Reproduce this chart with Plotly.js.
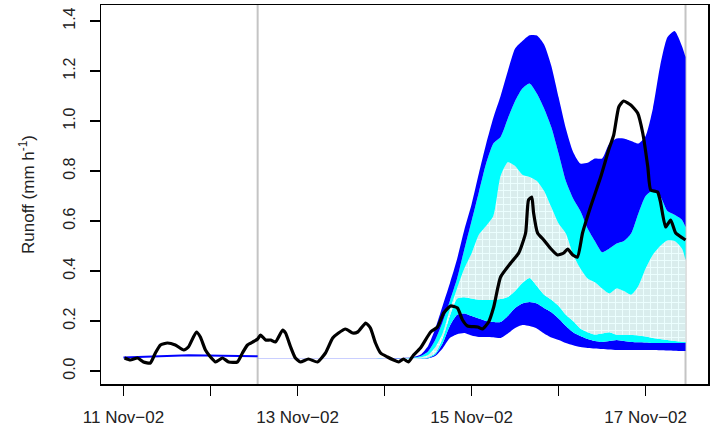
<!DOCTYPE html>
<html>
<head>
<meta charset="utf-8">
<script src="https://cdn.plot.ly/plotly-3.0.1.min.js"></script>
<style>html,body{margin:0;padding:0;background:#fff;}#chart{width:713px;height:428px;}</style>
</head>
<body>
<div id="chart"></div>
<script>
// hours since 11 Nov 2002 00:00
const tickHours = [0, 24, 48, 72, 96, 120, 144];
const tickLabels = ['11 Nov\u221202', '', '13 Nov\u221202', '', '15 Nov\u221202', '', '17 Nov\u221202'];
const markerHours = [37, 155];

const earlyHours = [0, 18, 37];
const earlyRunoff = [0.054, 0.063, 0.059];

const bandHours = [37,50,62,74,76,78,80,82,84,86,88,90,92,94,96,98,100,102,104,106,108,110,112,114,116,118,120,122,124,126,128,130,132,134,136,138,140,142,144,146,148,150,152,154,155];
const outerHi = [0.0505,0.0505,0.0505,0.0505,0.052,0.053,0.056,0.066,0.1,0.17,0.26,0.35,0.448,0.565,0.667,0.79,0.908,1.013,1.10,1.20,1.29,1.32,1.343,1.342,1.306,1.22,1.095,0.97,0.876,0.83,0.833,0.85,0.85,0.91,0.93,0.93,0.92,0.91,0.94,1.05,1.22,1.335,1.36,1.30,1.256];
const cyanHi = [0.050,0.050,0.050,0.050,0.051,0.052,0.054,0.06,0.078,0.125,0.195,0.28,0.37,0.487,0.60,0.715,0.83,0.91,0.936,1.01,1.08,1.13,1.15,1.11,1.05,0.975,0.87,0.76,0.69,0.64,0.57,0.52,0.475,0.49,0.51,0.52,0.55,0.63,0.70,0.722,0.70,0.64,0.625,0.605,0.576];
const innerHi = [0.0496,0.0496,0.0496,0.0496,0.0505,0.051,0.052,0.055,0.064,0.095,0.15,0.245,0.33,0.41,0.47,0.545,0.58,0.62,0.78,0.835,0.82,0.785,0.776,0.76,0.72,0.655,0.59,0.55,0.465,0.41,0.37,0.355,0.33,0.31,0.33,0.32,0.305,0.34,0.41,0.465,0.50,0.522,0.52,0.49,0.444];
const innerLo = [0.0492,0.0492,0.0492,0.0492,0.0495,0.0495,0.0498,0.051,0.055,0.072,0.13,0.22,0.29,0.295,0.29,0.285,0.284,0.284,0.288,0.296,0.32,0.352,0.372,0.34,0.305,0.285,0.26,0.225,0.20,0.17,0.155,0.146,0.15,0.155,0.145,0.145,0.144,0.142,0.138,0.132,0.128,0.124,0.12,0.117,0.116];
const cyanLo = [0.0488,0.0488,0.0488,0.0488,0.049,0.049,0.049,0.0498,0.052,0.066,0.11,0.18,0.225,0.23,0.22,0.21,0.20,0.196,0.196,0.22,0.252,0.27,0.276,0.27,0.252,0.235,0.21,0.18,0.155,0.14,0.128,0.12,0.116,0.12,0.124,0.12,0.116,0.115,0.114,0.112,0.112,0.112,0.112,0.112,0.112];
const outerLo = [0.0485,0.0485,0.0485,0.0485,0.0485,0.0485,0.0485,0.049,0.05,0.06,0.09,0.132,0.147,0.152,0.142,0.136,0.136,0.135,0.132,0.15,0.172,0.184,0.18,0.17,0.15,0.134,0.124,0.112,0.103,0.096,0.092,0.09,0.088,0.086,0.084,0.084,0.084,0.084,0.084,0.084,0.083,0.082,0.081,0.08,0.08];

const obsHours = [0.3,1.9,3.9,5.5,7.4,8.8,10.2,12.1,14.3,16.6,17.9,20.1,21.2,22.6,24.0,25.4,27.3,29.0,31.4,32.8,34.2,35.9,37.0,37.8,39.2,40.6,41.9,43.9,44.7,46.1,47.4,48.8,51.0,53.5,55.7,57.7,59.3,61.2,63.2,64.6,66.8,68.1,69.5,70.9,72.8,74.5,75.9,77.2,78.6,80.0,81.9,84.7,86.6,88.3,90.2,92.1,93.5,94.9,97.7,99.0,100.7,102.1,104.0,106.8,109.0,110.9,111.7,112.6,113.1,114.2,115.9,117.8,119.7,121.4,122.5,123.9,125.2,126.6,128.8,131.6,133.8,135.2,136.6,137.9,139.9,141.8,143.2,144.6,145.4,147.3,148.1,149.5,150.9,152.3,154.2,155.0];
const obsRunoff = [0.052,0.044,0.052,0.036,0.032,0.072,0.104,0.112,0.104,0.084,0.096,0.156,0.136,0.084,0.056,0.036,0.052,0.036,0.036,0.072,0.104,0.118,0.128,0.144,0.124,0.124,0.116,0.164,0.152,0.096,0.052,0.036,0.048,0.036,0.072,0.132,0.152,0.168,0.152,0.156,0.192,0.172,0.112,0.072,0.056,0.044,0.036,0.048,0.036,0.064,0.092,0.156,0.176,0.232,0.26,0.252,0.204,0.18,0.176,0.168,0.196,0.256,0.376,0.432,0.472,0.552,0.684,0.696,0.632,0.552,0.524,0.49,0.464,0.472,0.488,0.464,0.456,0.552,0.656,0.776,0.884,0.944,1.056,1.08,1.064,1.032,0.952,0.816,0.724,0.716,0.676,0.576,0.604,0.552,0.532,0.524];

const BLUE = '#0000ff', CYAN = '#00ffff';
function band(y, fill, color, pattern) {
  const t = {x: bandHours, y: y, type: 'scatter', mode: 'lines',
    line: {width: 0, shape: 'spline', smoothing: 0.6}, hoverinfo: 'skip', showlegend: false};
  if (fill) { t.fill = 'tonexty'; t.fillcolor = color; }
  if (pattern) t.fillpattern = pattern;
  return t;
}
const traces = [
  band(outerLo, false),
  band(cyanLo, true, BLUE),
  band(innerLo, true, CYAN),
  band(innerHi, true, '#dcefef', {shape: '+', bgcolor: '#d9eded', fgcolor: '#ecffff', size: 7, solidity: 0.25}),
  band(cyanHi, true, CYAN),
  band(outerHi, true, BLUE),
  {x: earlyHours, y: earlyRunoff, type: 'scatter', mode: 'lines', line: {color: BLUE, width: 2}, showlegend: false},
  {x: obsHours, y: obsRunoff, type: 'scatter', mode: 'lines', line: {color: '#000', width: 3.2, shape: 'spline', smoothing: 0.5}, showlegend: false}
];
const shapes = markerHours.map(h => ({type: 'line', xref: 'x', yref: 'paper', x0: h, x1: h, y0: 0, y1: 1, layer: 'below', line: {color: '#c4c4c4', width: 2}}));
const xfont = {family: 'Liberation Sans, Arial, sans-serif', size: 17, color: '#222'};
const yfont = {family: 'Liberation Sans, Arial, sans-serif', size: 16, color: '#222'};
const layout = {
  width: 713, height: 428,
  margin: {l: 101, r: 5, t: 5, b: 44},
  paper_bgcolor: '#fff', plot_bgcolor: '#fff',
  font: yfont,
  shapes: shapes,
  xaxis: {range: [-6.2, 161.2], tickvals: tickHours, ticktext: tickLabels, ticks: 'outside', ticklen: 10, tickwidth: 1.5, tickcolor: '#000',
    ticklabelstandoff: 7,
    showgrid: false, zeroline: false, showline: true, mirror: true, linecolor: '#000', linewidth: 1.5, tickfont: xfont},
  yaxis: {range: [-0.052, 1.464], tickvals: [0,0.2,0.4,0.6,0.8,1.0,1.2,1.4], tickformat: '.1f', tickangle: -90, ticks: 'outside', ticklen: 10, tickwidth: 1.5, tickcolor: '#000',
    ticklabelstandoff: 8,
    showgrid: false, zeroline: false, showline: true, mirror: true, linecolor: '#000', linewidth: 1.5, tickfont: yfont,
    title: {text: 'Runoff (mm h<sup>-1</sup>)', font: {family: 'Liberation Sans, Arial, sans-serif', size: 17, color: '#222'}, standoff: 22}}
};
Plotly.newPlot('chart', traces, layout, {displayModeBar: false, staticPlot: true});
</script>
</body>
</html>
